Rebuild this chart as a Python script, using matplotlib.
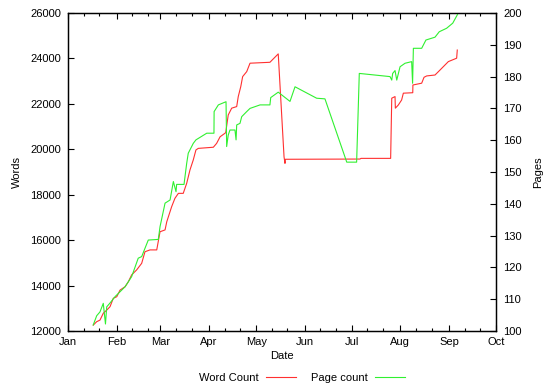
import datetime as dt
import matplotlib
matplotlib.use("Agg")
import matplotlib.pyplot as plt
import matplotlib.dates as mdates
from matplotlib.lines import Line2D

plt.rcParams['font.family'] = ['Liberation Sans', 'DejaVu Sans']
plt.rcParams['font.size'] = 8

# ---- data (day offset from Jan 1, value) ----
word_days = [16.1, 18.3, 20.4, 22.5, 24.7, 26.8, 28.9, 31.1, 33.2, 36.4, 38.5, 40.6,
             43.8, 47.0, 49.1, 52.3, 56.6, 58.7, 61.9, 63.0, 66.1, 68.2, 70.4, 73.5,
             75.7, 77.8, 79.9, 81.6, 83.1, 92.7, 94.8, 97.0, 100.6, 102.2, 104.4, 107.6,
             108.6, 110.2, 111.4, 114.0, 116.1, 128.8, 134.1, 137.8, 138.4, 138.6, 186.2,
             186.9, 205.8, 206.5, 208.6, 208.8, 210.7, 212.8, 213.9, 219.9, 220.0, 225.6,
             227.1, 228.8, 234.1, 237.3, 242.6, 247.9, 248.3]
word_counts = [12260, 12410, 12480, 12780, 12920, 13070, 13440, 13510, 13800, 13950, 14170, 14470,
               14690, 14980, 15490, 15570, 15570, 16370, 16450, 16810, 17470, 17840, 18060, 18060,
               18500, 19090, 19530, 19970, 20040, 20090, 20260, 20550, 20730, 21510, 21810, 21880,
               22320, 22760, 23200, 23420, 23790, 23830, 24200, 19670, 19380, 19560, 19570,
               19600, 19600, 22250, 22320, 21810, 21950, 22170, 22470, 22490, 22830, 22910,
               23170, 23230, 23270, 23490, 23860, 24010, 24370]

page_days = [16.1, 18.3, 20.4, 22.5, 23.9, 24.7, 26.8, 30.0, 36.4, 40.6, 44.8, 47.0,
             51.2, 57.6, 58.7, 61.9, 65.1, 67.2, 68.9, 69.3, 74.0, 75.7, 76.7, 79.9,
             81.6, 88.5, 93.1, 93.2, 95.9, 100.8, 101.2, 102.2, 103.3, 106.5, 107.2, 107.6,
             109.7, 110.8, 114.0, 116.1, 122.5, 128.8, 129.3, 134.1, 141.6, 144.8, 158.6,
             163.9, 177.8, 184.1, 185.8, 205.4, 206.5, 207.1, 208.6, 209.7, 211.8, 215.0,
             219.2, 219.8, 220.3, 225.6, 228.3, 234.1, 236.8, 241.5, 245.4, 248.3, 248.9]
page_counts = [101.9, 104.8, 106.0, 108.7, 102.2, 107.6, 108.8, 110.8, 113.9, 117.1, 122.9, 123.4,
               128.6, 128.8, 132.8, 140.2, 141.2, 147.0, 143.8, 146.1, 146.1, 152.7, 155.9, 159.0,
               160.1, 162.2, 162.2, 169.0, 171.1, 172.1, 158.0, 161.6, 163.2, 163.2, 160.1, 164.8,
               165.3, 167.4, 169.0, 170.0, 171.1, 171.1, 173.4, 175.1, 172.2, 176.8, 173.2,
               173.0, 153.1, 153.1, 181.0, 180.0, 178.9, 181.0, 181.9, 178.9, 183.1, 184.2,
               184.7, 177.9, 188.9, 188.9, 191.5, 192.4, 194.1, 195.2, 196.8, 199.4, 200.1]

month_labels = ['Jan', 'Feb', 'Mar', 'Apr', 'May', 'Jun', 'Jul', 'Aug', 'Sep', 'Oct']

base = dt.datetime(2007, 1, 1)
to_date = lambda d: base + dt.timedelta(days=d)
wd = [to_date(d) for d in word_days]
pd_ = [to_date(d) for d in page_days]

fig = plt.figure(figsize=(5.5, 3.85), dpi=100)
ax = fig.add_axes([68/550, 1-331/385, 428/550, 318/385])
ax2 = ax.twinx()

red = '#ff3030'
green = '#30f030'
ax.plot(wd, word_counts, color=red, lw=0.8)
ax2.plot(pd_, page_counts, color=green, lw=0.8)

ax.set_xlim(dt.datetime(2007, 1, 1), dt.datetime(2007, 10, 1))
ax.set_ylim(12000, 26000)
ax2.set_ylim(100, 200)

months = [dt.datetime(2007, m, 1) for m in range(1, 11)]
ax.set_xticks(months)
ax.set_xticklabels(month_labels)
minor = [dt.datetime(2007, m, d) for m in range(1, 10) for d in (11, 21)]
ax.set_xticks(minor, minor=True)
ax.set_yticks(range(12000, 26001, 2000))
ax2.set_yticks(range(100, 201, 10))

ax.tick_params(axis='x', which='major', direction='in', length=4, width=0.8,
               top=True, pad=4)
ax.tick_params(axis='x', which='minor', direction='in', length=2.2, width=0.8, top=True)
ax.tick_params(axis='y', direction='in', length=4, width=0.8, right=False, pad=5)
ax2.tick_params(axis='y', direction='in', length=4, width=0.8, pad=5)

for a in (ax, ax2):
    for s in a.spines.values():
        s.set_linewidth(0.9)

ax.set_xlabel('Date', labelpad=3)
ax.set_ylabel('Words', labelpad=6)
ax2.set_ylabel('Pages', labelpad=8)

handles = [Line2D([], [], color=red, lw=0.8), Line2D([], [], color=green, lw=0.8)]
fig.legend(handles, ['Word Count', 'Page count'], loc='center',
           bbox_to_anchor=(302/550, 7/385), ncol=2, frameon=False, markerfirst=False,
           handlelength=2.7, handletextpad=0.6, columnspacing=1.4)

fig.savefig('out.png', dpi=100)
